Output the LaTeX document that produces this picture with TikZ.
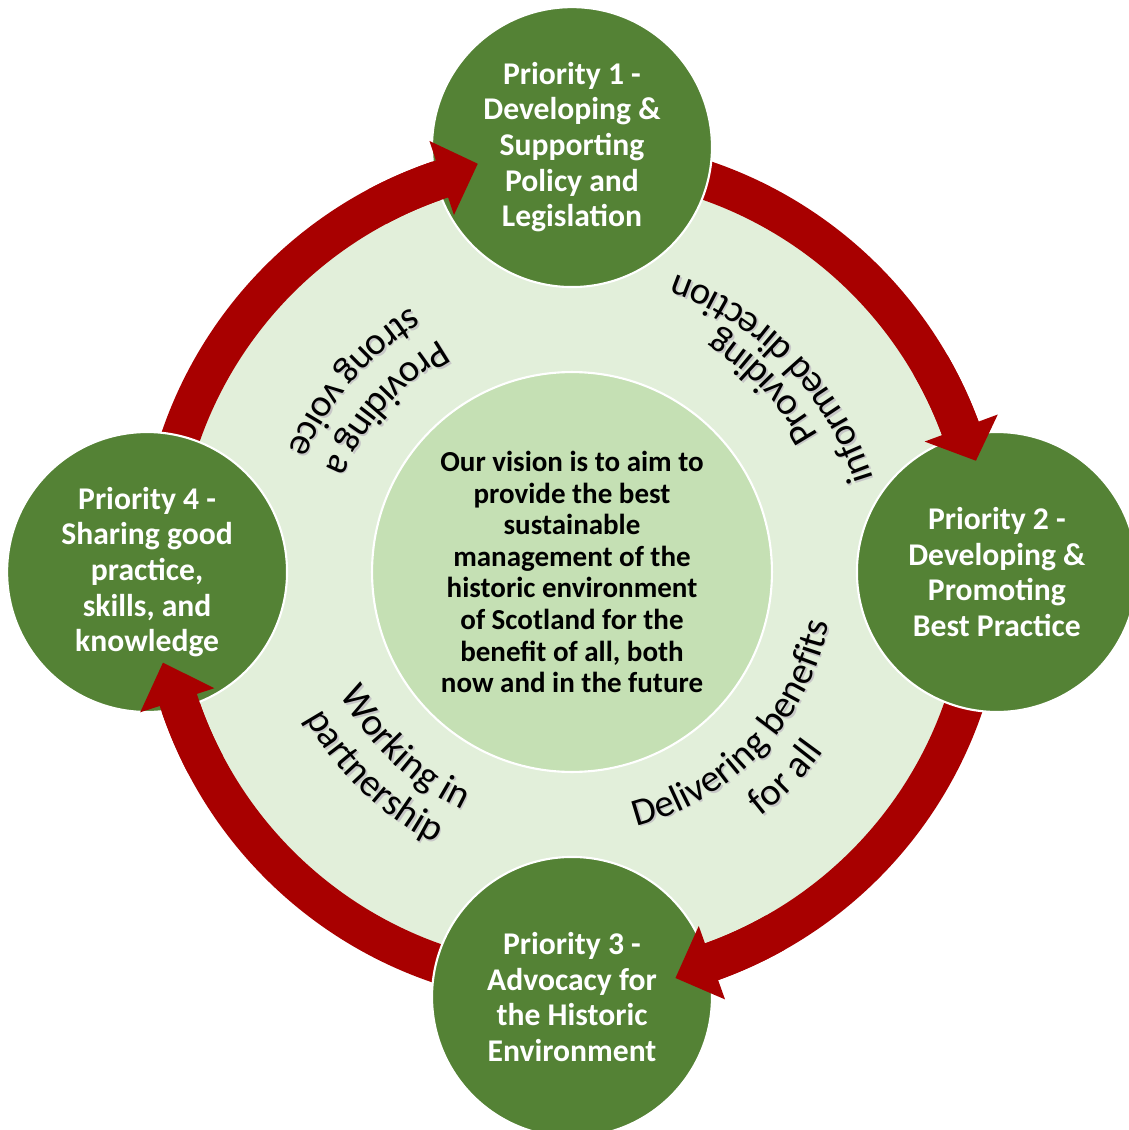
\documentclass[tikz,border=0pt]{standalone}
\usepackage{fontspec}
\setmainfont{Carlito}
\usetikzlibrary{positioning,decorations.text}
\definecolor{dg}{HTML}{548235}
\definecolor{paleg}{HTML}{E2EFDA}
\definecolor{midg}{HTML}{C5E0B4}
\definecolor{dred}{HTML}{A80000}
\newcommand{\arcfont}{\fontsize{22}{26}\selectfont}
\tikzset{
    priority/.style = {circle,
                    fill=dg,
                    draw=white,
                    text=white,
                    line width=1.2pt,
                    align=center,
                    inner sep=0pt,
                    minimum size=5.6cm,
                    font=\fontsize{18}{20.3}\selectfont\bfseries},
    vision/.style = {circle,
                    fill=midg,
                    draw=white,
                    text=black,
                    line width=1.2pt,
                    align=center,
                    inner sep=0pt,
                    minimum size=8cm,
                    font=\fontsize{16.5}{18}\selectfont\bfseries},
    shaft/.style =  {draw=dred,
                    line width=0.78cm},
    bighead/.style = {fill=dred},
    arclabel/.style = {decorate,
                    decoration={text along path,
                                text align=center,
                                text color=black}},
    arcshadow/.style = {decorate,
                    shift={(1.6,-1.6)},
                    decoration={text along path,
                                text align=center,
                                text color=black!22}}
}
\begin{document}
\begin{tikzpicture}[x=0.02cm, y=0.02cm, node distance=8.5cm]
    \useasboundingbox (-572,-558) rectangle (557,572);
    \clip (-572,-558) rectangle (557,572);
    \fill[white] (-572,-558) rectangle (557,572);
    \coordinate (ctr) at (0,0);
    \fill[paleg] (ctr) circle[radius=396];

    \draw[shaft] (175:414) arc[start angle=175, end angle=108, radius=414];
    \draw[shaft] (85:414) arc[start angle=85, end angle=20, radius=414];
    \draw[shaft] (-5:414) arc[start angle=-5, end angle=-70.6, radius=414];
    \draw[shaft] (265:414) arc[start angle=265, end angle=197.7, radius=414];

    \node[vision]   (vision) at (ctr)            {Our vision is to aim to\\provide the best\\sustainable\\management of the\\historic environment\\of Scotland for the\\benefit of all, both\\now and in the future};
    \node[priority] (p1)     [above of=vision]   {Priority 1 -\\Developing \&\\Supporting\\Policy and\\Legislation};
    \node[priority] (p2)     [right of=vision]   {Priority 2 -\\Developing \&\\Promoting\\Best Practice};
    \node[priority] (p3)     [below of=vision]   {Priority 3 -\\Advocacy for\\the Historic\\Environment};
    \node[priority] (p4)     [left of=vision]    {Priority 4 -\\Sharing good\\practice,\\skills, and\\knowledge};

    \draw[shaft] (118:414) arc[start angle=118, end angle=108, radius=414];
    \draw[shaft] (30:414) arc[start angle=30, end angle=20, radius=414];
    \draw[shaft] (-60.6:414) arc[start angle=-60.6, end angle=-70.6, radius=414];
    \draw[shaft] (207.7:414) arc[start angle=207.7, end angle=197.7, radius=414];
    \fill[bighead] (108.3:376) -- (108.3:454) -- (103:419) -- cycle;
    \fill[bighead] (20.3:376) -- (20.3:454) -- (15.4:419) -- cycle;
    \fill[bighead] (-70.3:376) -- (-70.3:454) -- (-75.7:419) -- cycle;
    \fill[bighead] (198:376) -- (198:454) -- (192.5:419) -- cycle;

    \path[arcshadow, decoration={text={|\arcfont|Providing a}}]  (93.5:267) arc[start angle=93.5, end angle=183.5, radius=267];
    \path[arclabel,  decoration={text={|\arcfont|Providing a}}]  (93.5:267) arc[start angle=93.5, end angle=183.5, radius=267];
    \path[arcshadow, decoration={text={|\arcfont|strong voice}}] (94:309) arc[start angle=94, end angle=184, radius=309];
    \path[arclabel,  decoration={text={|\arcfont|strong voice}}] (94:309) arc[start angle=94, end angle=184, radius=309];

    \path[arcshadow, decoration={text={|\arcfont|Providing}}]          (-1:282) arc[start angle=-1, end angle=89, radius=282];
    \path[arclabel,  decoration={text={|\arcfont|Providing}}]          (-1:282) arc[start angle=-1, end angle=89, radius=282];
    \path[arcshadow, decoration={text={|\arcfont|informed direction}}] (-1:315) arc[start angle=-1, end angle=89, radius=315];
    \path[arclabel,  decoration={text={|\arcfont|informed direction}}] (-1:315) arc[start angle=-1, end angle=89, radius=315];

    \path[arcshadow, decoration={text={|\arcfont|Delivering benefits}}] (-88.5:262) arc[start angle=-88.5, end angle=1.5, radius=262];
    \path[arclabel,  decoration={text={|\arcfont|Delivering benefits}}] (-88.5:262) arc[start angle=-88.5, end angle=1.5, radius=262];
    \path[arcshadow, decoration={text={|\arcfont|for all}}]             (-89:309) arc[start angle=-89, end angle=1, radius=309];
    \path[arclabel,  decoration={text={|\arcfont|for all}}]             (-89:309) arc[start angle=-89, end angle=1, radius=309];

    \path[arcshadow, decoration={text={|\arcfont|Working in}}]  (181.5:262) arc[start angle=181.5, end angle=271.5, radius=262];
    \path[arclabel,  decoration={text={|\arcfont|Working in}}]  (181.5:262) arc[start angle=181.5, end angle=271.5, radius=262];
    \path[arcshadow, decoration={text={|\arcfont|partnership}}] (181:304) arc[start angle=181, end angle=271, radius=304];
    \path[arclabel,  decoration={text={|\arcfont|partnership}}] (181:304) arc[start angle=181, end angle=271, radius=304];
\end{tikzpicture}
\end{document}
